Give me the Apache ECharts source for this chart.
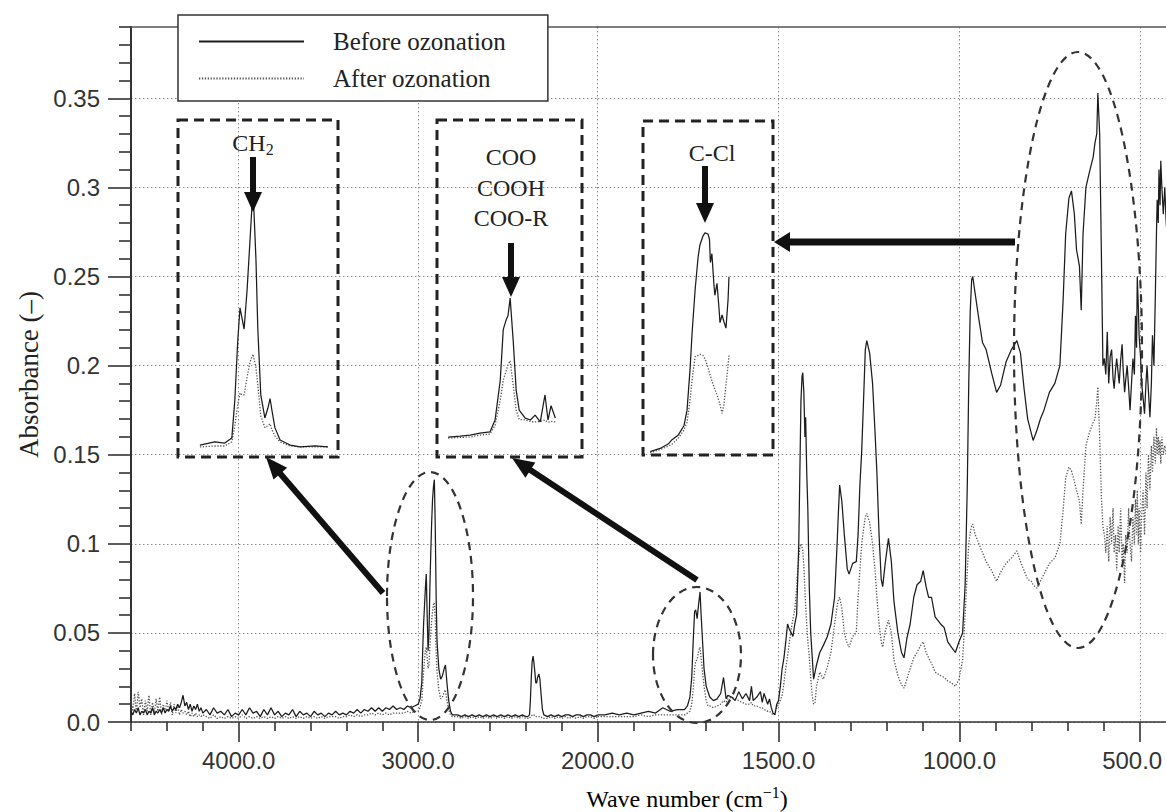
<!DOCTYPE html>
<html>
<head>
<meta charset="utf-8">
<script src="https://cdn.jsdelivr.net/npm/echarts@6.0.0/dist/echarts.min.js"></script>
<style>
html,body{margin:0;padding:0;background:#fff;}
#chart{width:1166px;height:812px;}
</style>
</head>
<body>
<div id="chart"></div>
<script>
// ---------------- Data ----------------
const wavenumbers = [
  // 4600-4200
  4600,4590,4580,4570,4560,4550,4540,4530,4520,4510,
  4500,4490,4480,4470,4460,4450,4440,4430,4420,4410,
  4400,4390,4380,4370,4360,4350,4340,4330,4320,4310,
  4300,4290,4280,4270,4260,4250,4240,4230,4220,4210,
  4200,
  // 4180-3060
  4180,4160,4140,4120,4100,4080,4060,4040,4020,4000,
  3980,3960,3940,3920,3900,3880,3860,3840,3820,3800,
  3780,3760,3740,3720,3700,3680,3660,3640,3620,3600,
  3580,3560,3540,3520,3500,3480,3460,3440,3420,3400,
  3380,3360,3340,3320,3300,3280,3260,3240,3220,3200,
  3180,3160,3140,3120,3100,3080,3060,
  // CH2 band
  3040,3020,3000,2990,2980,2975,2970,2965,2960,2955,
  2950,2945,2940,2935,2930,2925,2920,2915,2910,2905,
  2900,2895,2885,2875,2865,2855,2848,2840,2830,2820,
  2810,2800,
  // 2780-2400
  2780,2760,2740,2720,2700,2680,2660,2640,2620,2600,
  2580,2560,2540,2520,2500,2480,2460,2440,2420,2400,
  // CO2 doublet
  2390,2380,2375,2370,2365,2360,2355,2350,2345,2340,
  2335,2328,2322,2315,2308,2300,
  // 2280-2000
  2280,2260,2240,2220,2200,2180,2160,2140,2120,2100,
  2080,2060,2040,2020,2000,
  // 1980-1700 (C=O)
  1980,1960,1940,1920,1900,1880,1860,1840,1820,1800,
  1780,1770,1760,1752,1745,1740,1736,1732,1729,1725,
  1721,1717,1714,1710,1706,1700,
  // 1695-1500
  1695,1690,1680,1670,1660,1652,1645,1640,1630,1620,
  1610,1600,1590,1580,1575,1570,1560,1550,1545,1540,
  1530,1525,1520,1515,1510,1505,1500,
  // 1495-1395
  1495,1490,1485,1480,1475,1470,1465,1460,1455,1450,
  1447,1444,1441,1438,1435,1433,1430,1427,1425,1422,
  1419,1415,1411,1407,1403,1399,1395,
  // 1386-1001
  1386,1376,1365,1355,1345,1338,1335,1331,1325,1318,
  1310,1305,1295,1285,1280,1275,1270,1265,1260,1256,
  1248,1240,1233,1228,1222,1216,1212,1205,1196,1188,
  1181,1170,1160,1153,1145,1136,1126,1117,1107,1100,
  1092,1085,1077,1067,1052,1042,1032,1022,1011,1001,
  // 991-603
  991,984,978,974,970,966,963,956,946,936,
  926,911,897,886,871,856,841,831,821,811,
  801,796,785,776,766,751,736,722,713,706,
  697,690,682,676,668,663,658,650,641,630,
  625,620,617,612,607,603,
  // 599-400
  599,595,591,587,583,579,575,572,568,565,
  561,558,554,550,547,543,540,536,532,528,
  524,520,516,513,510,508,505,503,499,496,
  492,488,484,481,477,473,469,466,462,458,
  455,453,450,448,445,443,440,436,432,428,
  420,410,400
];

const absBefore = [
  0.006,0.004,0.007,0.005,0.008,0.004,0.006,0.005,0.007,0.004,
  0.006,0.005,0.008,0.004,0.006,0.005,0.007,0.005,0.008,0.005,
  0.007,0.006,0.009,0.006,0.008,0.007,0.010,0.008,0.011,0.015,
  0.009,0.011,0.007,0.010,0.006,0.009,0.007,0.010,0.006,0.008,
  0.005,
  0.007,0.004,0.008,0.005,0.006,0.004,0.007,0.003,0.005,0.004,
  0.007,0.004,0.008,0.005,0.006,0.003,0.007,0.004,0.008,0.004,
  0.006,0.003,0.005,0.004,0.007,0.003,0.006,0.004,0.005,0.003,
  0.006,0.004,0.005,0.003,0.005,0.004,0.006,0.004,0.005,0.004,
  0.006,0.005,0.007,0.005,0.007,0.006,0.008,0.006,0.008,0.006,
  0.008,0.007,0.009,0.007,0.008,0.007,0.009,
  0.008,0.009,0.010,0.013,0.022,0.040,0.055,0.065,0.075,0.083,
  0.060,0.040,0.050,0.075,0.095,0.112,0.125,0.132,0.136,0.110,
  0.070,0.045,0.030,0.024,0.026,0.030,0.032,0.022,0.012,0.006,
  0.004,0.004,
  0.004,0.003,0.004,0.003,0.004,0.003,0.004,0.003,0.004,0.003,
  0.004,0.003,0.004,0.003,0.004,0.003,0.004,0.003,0.004,0.003,
  0.003,0.004,0.012,0.025,0.034,0.037,0.033,0.028,0.022,0.022,
  0.025,0.027,0.024,0.015,0.007,0.004,
  0.003,0.004,0.003,0.004,0.003,0.004,0.004,0.003,0.004,0.004,
  0.003,0.004,0.004,0.003,0.004,
  0.004,0.005,0.004,0.005,0.004,0.005,0.006,0.005,0.008,0.006,
  0.007,0.007,0.007,0.009,0.014,0.025,0.045,0.062,0.063,0.058,
  0.066,0.073,0.060,0.045,0.030,0.020,
  0.017,0.014,0.012,0.013,0.016,0.025,0.013,0.015,0.014,0.012,
  0.017,0.013,0.016,0.012,0.020,0.012,0.014,0.017,0.011,0.016,
  0.010,0.013,0.008,0.005,0.004,0.010,0.012,
  0.020,0.030,0.036,0.045,0.055,0.052,0.050,0.048,0.055,0.060,
  0.080,0.100,0.140,0.180,0.194,0.196,0.185,0.160,0.171,0.140,
  0.120,0.076,0.050,0.037,0.024,0.028,0.032,
  0.039,0.043,0.048,0.055,0.070,0.100,0.115,0.133,0.124,0.105,
  0.086,0.083,0.089,0.090,0.105,0.133,0.152,0.180,0.209,0.214,
  0.207,0.190,0.162,0.140,0.105,0.080,0.076,0.089,0.103,0.090,
  0.068,0.050,0.039,0.036,0.047,0.055,0.070,0.077,0.079,0.085,
  0.076,0.070,0.070,0.059,0.055,0.053,0.045,0.042,0.039,0.045,
  0.050,0.077,0.133,0.190,0.230,0.248,0.250,0.240,0.226,0.213,
  0.209,0.196,0.185,0.189,0.202,0.209,0.214,0.207,0.187,0.170,
  0.162,0.158,0.164,0.170,0.175,0.185,0.190,0.200,0.237,0.274,
  0.294,0.298,0.285,0.265,0.256,0.231,0.274,0.300,0.308,0.317,
  0.325,0.330,0.353,0.330,0.259,0.200,
  0.204,0.195,0.219,0.190,0.205,0.209,0.193,0.187,0.198,0.204,
  0.196,0.190,0.203,0.212,0.198,0.185,0.192,0.200,0.188,0.175,
  0.190,0.204,0.195,0.228,0.210,0.250,0.232,0.217,0.205,0.190,
  0.182,0.173,0.190,0.200,0.185,0.171,0.190,0.217,0.200,0.240,
  0.274,0.293,0.280,0.310,0.290,0.315,0.300,0.285,0.300,0.280,
  0.260,0.240,0.220
];

const absAfter = [
  0.012,0.006,0.016,0.005,0.017,0.008,0.013,0.004,0.012,0.006,
  0.015,0.004,0.011,0.005,0.013,0.006,0.014,0.004,0.010,0.005,
  0.012,0.006,0.011,0.004,0.010,0.005,0.009,0.004,0.007,0.005,
  0.006,0.004,0.006,0.003,0.005,0.003,0.005,0.003,0.004,0.003,
  0.004,
  0.003,0.002,0.004,0.002,0.003,0.002,0.003,0.002,0.003,0.002,
  0.004,0.002,0.003,0.002,0.003,0.002,0.003,0.002,0.003,0.002,
  0.003,0.002,0.003,0.002,0.003,0.002,0.003,0.002,0.003,0.002,
  0.003,0.002,0.003,0.002,0.003,0.003,0.003,0.002,0.003,0.003,
  0.004,0.003,0.004,0.003,0.004,0.004,0.005,0.004,0.005,0.004,
  0.005,0.004,0.005,0.005,0.005,0.005,0.006,
  0.005,0.006,0.006,0.008,0.012,0.020,0.028,0.035,0.040,0.042,
  0.036,0.030,0.032,0.042,0.050,0.057,0.062,0.066,0.067,0.058,
  0.040,0.028,0.018,0.013,0.014,0.017,0.018,0.012,0.007,0.004,
  0.003,0.003,
  0.003,0.002,0.003,0.002,0.003,0.002,0.003,0.002,0.003,0.002,
  0.003,0.002,0.003,0.002,0.003,0.002,0.003,0.002,0.003,0.002,
  0.002,0.002,0.003,0.003,0.004,0.004,0.004,0.003,0.003,0.003,
  0.003,0.003,0.003,0.003,0.002,0.002,
  0.002,0.003,0.002,0.003,0.002,0.003,0.002,0.003,0.002,0.003,
  0.002,0.003,0.003,0.002,0.003,
  0.003,0.003,0.003,0.003,0.003,0.004,0.003,0.004,0.004,0.004,
  0.004,0.004,0.004,0.005,0.006,0.010,0.018,0.030,0.034,0.035,
  0.040,0.042,0.036,0.028,0.020,0.012,
  0.009,0.009,0.008,0.009,0.010,0.012,0.011,0.013,0.014,0.013,
  0.012,0.011,0.010,0.010,0.011,0.009,0.009,0.008,0.008,0.007,
  0.006,0.006,0.005,0.004,0.005,0.008,0.010,
  0.012,0.015,0.022,0.030,0.037,0.045,0.052,0.058,0.063,0.075,
  0.085,0.092,0.098,0.100,0.098,0.096,0.088,0.074,0.065,0.055,
  0.045,0.037,0.025,0.015,0.010,0.011,0.020,
  0.028,0.024,0.031,0.039,0.055,0.065,0.068,0.070,0.064,0.050,
  0.044,0.042,0.048,0.050,0.070,0.085,0.100,0.108,0.115,0.117,
  0.112,0.100,0.085,0.070,0.055,0.045,0.042,0.051,0.057,0.050,
  0.035,0.026,0.021,0.019,0.024,0.030,0.036,0.039,0.043,0.045,
  0.039,0.036,0.033,0.028,0.026,0.025,0.023,0.022,0.020,0.024,
  0.035,0.060,0.085,0.100,0.106,0.110,0.111,0.105,0.100,0.095,
  0.090,0.085,0.079,0.084,0.089,0.092,0.096,0.090,0.085,0.080,
  0.079,0.077,0.075,0.079,0.083,0.089,0.092,0.100,0.119,0.137,
  0.143,0.141,0.135,0.130,0.124,0.111,0.130,0.155,0.162,0.168,
  0.170,0.180,0.188,0.160,0.125,0.110,
  0.105,0.095,0.110,0.090,0.115,0.100,0.120,0.095,0.105,0.085,
  0.110,0.095,0.120,0.090,0.100,0.078,0.105,0.095,0.120,0.100,
  0.090,0.115,0.100,0.125,0.105,0.130,0.100,0.120,0.095,0.115,
  0.130,0.105,0.140,0.120,0.150,0.130,0.155,0.140,0.160,0.145,
  0.165,0.150,0.160,0.150,0.158,0.145,0.160,0.150,0.155,0.150,
  0.145,0.140,0.130
];

// Inset spectra (zoomed views)
const ch2Wave   = [3060,3020,2993,2974,2966,2958,2952,2947,2941,2933,2925,2917,2909,2904,2896,2885,2877,2871,2866,2858,2844,2817,2790,2750,2715];
const ch2Before = [0.003,0.0046,0.004,0.0066,0.026,0.057,0.074,0.069,0.063,0.083,0.109,0.136,0.099,0.063,0.029,0.017,0.022,0.027,0.021,0.012,0.0056,0.003,0.002,0.0025,0.002];
const ch2After  = [0.002,0.0025,0.0025,0.0046,0.013,0.024,0.030,0.029,0.029,0.038,0.046,0.050,0.043,0.034,0.018,0.012,0.013,0.014,0.011,0.0077,0.0046,0.0025,0.002,0.002,0.002];

const cooWave   = [1864,1836,1813,1790,1767,1755,1743,1736,1729,1725,1720,1713,1706,1699,1685,1673,1662,1650,1639,1632,1625,1615];
const cooBefore = [0.003,0.0035,0.004,0.005,0.0056,0.0117,0.032,0.058,0.063,0.065,0.074,0.0526,0.027,0.0168,0.0127,0.0117,0.0142,0.0107,0.0245,0.0117,0.019,0.0127];
const cooAfter  = [0.0025,0.0028,0.003,0.004,0.0045,0.009,0.0219,0.032,0.037,0.040,0.042,0.0296,0.0168,0.012,0.0117,0.011,0.0107,0.011,0.0117,0.0105,0.011,0.0107];

const cclWave   = [800,767,740,727,707,687,677,667,660,650,640,634,624,617,607,602,599,594,587,584,577,570,567,560,554,547,540,537];
const cclBefore = [0.153,0.156,0.160,0.164,0.168,0.177,0.191,0.228,0.262,0.301,0.331,0.342,0.350,0.353,0.352,0.347,0.326,0.334,0.305,0.296,0.307,0.283,0.271,0.278,0.272,0.266,0.292,0.313];
const cclAfter  = [0.152,0.155,0.158,0.160,0.165,0.173,0.180,0.200,0.219,0.240,0.241,0.242,0.241,0.238,0.230,0.225,0.222,0.218,0.212,0.210,0.205,0.199,0.196,0.188,0.196,0.214,0.232,0.241];

// Ticks
const xMajorHigh = [4000, 3000];
const xMinorHigh = [4600, 4400, 4200, 3800, 3600, 3400, 3200, 2800, 2600, 2400, 2200];
const xMajorLow  = [2000, 1500, 1000, 500];
const xMinorLow  = [1900, 1800, 1700, 1600, 1400, 1300, 1200, 1100, 900, 800, 700, 600, 400];
const yMajor = [0, 0.05, 0.1, 0.15, 0.2, 0.25, 0.3, 0.35];
const yMinor = [0.01,0.02,0.03,0.04,0.06,0.07,0.08,0.09,0.11,0.12,0.13,0.14,0.16,0.17,0.18,0.19,
                0.21,0.22,0.23,0.24,0.26,0.27,0.28,0.29,0.31,0.32,0.33,0.34,0.36,0.37,0.38,0.39];

const seriesNames = ['Before ozonation', 'After ozonation'];

// ---------------- Build ----------------
function pairs(lo, hi, vals) {
  const out = [];
  for (let i = 0; i < wavenumbers.length; i++) {
    const w = wavenumbers[i];
    if (w >= lo && w <= hi) out.push([w, vals[i]]);
  }
  return out;
}
function zipPairs(ws, vs) { return ws.map((w, i) => [w, vs[i]]); }

const AX = '#333';
const gridLine = { show: true, lineStyle: { color: '#8a8a8a', width: 1, type: [1.5, 2.5] } };
const sansFamily = 'Liberation Sans, Arial, sans-serif';
const sansLabel = { fontFamily: sansFamily, fontSize: 24, color: '#333' };
const fmtX = v => Number(v).toFixed(1);
// the last label sits at the picture's right edge: shift it slightly left so it stays readable
const fmtXLow = v => (v === 500 ? '{r|' + fmtX(v) + '}' : fmtX(v));
const fmtY = v => (v === 0 ? '0.0' : String(Math.round(v * 100) / 100));

function hiddenAxis(extra) {
  return Object.assign({ type: 'value', show: false, axisLine: { show: false, onZero: false },
    axisTick: { show: false }, axisLabel: { show: false }, splitLine: { show: false } }, extra);
}

const xAxis = [
  // 0: high-wavenumber part, majors + grid lines
  { type: 'value', gridIndex: 0, position: 'bottom', min: 2000, max: 4600, interval: 1000, inverse: true,
    axisLine: { show: true, onZero: false, lineStyle: { color: AX, width: 1.6 } },
    axisTick: { show: true, customValues: xMajorHigh, length: 20, lineStyle: { color: AX, width: 1.6 } },
    axisLabel: Object.assign({ show: true, customValues: xMajorHigh, formatter: fmtX, margin: 26, hideOverlap: false }, sansLabel),
    splitLine: gridLine },
  // 1: minor ticks
  { type: 'value', gridIndex: 0, position: 'bottom', min: 2000, max: 4600, interval: 1000, inverse: true,
    axisLine: { show: false, onZero: false },
    axisTick: { show: true, customValues: xMinorHigh, length: 9, lineStyle: { color: AX, width: 1.6 } },
    axisLabel: { show: false }, splitLine: { show: false } },
  // 2: top frame
  { type: 'value', gridIndex: 0, position: 'top', min: 2000, max: 4600, inverse: true,
    axisLine: { show: true, onZero: false, lineStyle: { color: '#555', width: 1.6 } },
    axisTick: { show: false }, axisLabel: { show: false }, splitLine: { show: false } },
  // 3: low-wavenumber part (double scale), majors + grid lines
  { type: 'value', gridIndex: 1, position: 'bottom', min: 0, max: 2000, interval: 500, inverse: true,
    axisLine: { show: true, onZero: false, lineStyle: { color: AX, width: 1.6 } },
    axisTick: { show: true, customValues: xMajorLow, length: 20, lineStyle: { color: AX, width: 1.6 } },
    axisLabel: Object.assign({ show: true, customValues: xMajorLow, formatter: fmtXLow, margin: 26, hideOverlap: false,
      rich: { r: { fontFamily: sansFamily, fontSize: 24, color: '#333', padding: [0, 16, 0, 0] } } }, sansLabel),
    splitLine: gridLine },
  // 4: minor ticks
  { type: 'value', gridIndex: 1, position: 'bottom', min: 0, max: 2000, interval: 500, inverse: true,
    axisLine: { show: false, onZero: false },
    axisTick: { show: true, customValues: xMinorLow, length: 9, lineStyle: { color: AX, width: 1.6 } },
    axisLabel: { show: false }, splitLine: { show: false } },
  // 5: top frame
  { type: 'value', gridIndex: 1, position: 'top', min: 0, max: 2000, inverse: true,
    axisLine: { show: true, onZero: false, lineStyle: { color: '#555', width: 1.6 } },
    axisTick: { show: false }, axisLabel: { show: false }, splitLine: { show: false } },
  // 6-8: insets
  hiddenAxis({ gridIndex: 2, min: 2688, max: 3119, inverse: true }),
  hiddenAxis({ gridIndex: 3, min: 1553, max: 1890, inverse: true }),
  hiddenAxis({ gridIndex: 4, min: 390, max: 824, inverse: true })
];

const yAxis = [
  // 0: main left axis
  { type: 'value', gridIndex: 0, position: 'left', min: 0, max: 0.39, interval: 0.05,
    name: 'Absorbance (–)', nameLocation: 'middle', nameGap: 89,
    nameTextStyle: { fontFamily: 'Liberation Serif, Times New Roman, serif', fontSize: 27, color: '#222' },
    axisLine: { show: true, onZero: false, lineStyle: { color: AX, width: 2 } },
    axisTick: { show: true, customValues: yMajor, length: 23, lineStyle: { color: AX, width: 1.6 } },
    axisLabel: Object.assign({ show: true, customValues: yMajor, formatter: fmtY, margin: 31, hideOverlap: false }, sansLabel),
    splitLine: gridLine },
  // 1: minor ticks
  { type: 'value', gridIndex: 0, position: 'left', min: 0, max: 0.39, interval: 0.05,
    axisLine: { show: false, onZero: false },
    axisTick: { show: true, customValues: yMinor, length: 12, lineStyle: { color: AX, width: 1.6 } },
    axisLabel: { show: false }, splitLine: { show: false } },
  // 2: grid lines for the right part
  { type: 'value', gridIndex: 1, position: 'left', min: 0, max: 0.39, interval: 0.05,
    axisLine: { show: false, onZero: false },
    axisTick: { show: false, customValues: yMajor },
    axisLabel: { show: false }, splitLine: gridLine },
  hiddenAxis({ gridIndex: 2, min: -0.0032, max: 0.1712 }),
  hiddenAxis({ gridIndex: 3, min: -0.0072, max: 0.165 }),
  hiddenAxis({ gridIndex: 4, min: 0.15, max: 0.4553 })
];

const beforeStyle = { color: '#1c1c1c', width: 1.25, type: 'solid' };
const afterStyle  = { color: '#555', width: 1.3, type: [1.3, 1.6] };

function lineSeries(name, xi, yi, data, style, z) {
  return { name, type: 'line', xAxisIndex: xi, yAxisIndex: yi, data,
    symbol: 'none', showSymbol: false, silent: true, animation: false,
    lineStyle: style, itemStyle: { color: style.color }, z: z };
}

const series = [
  lineSeries(seriesNames[1], 0, 0, pairs(2000, 4600, absAfter), afterStyle, 2),
  lineSeries(seriesNames[1], 3, 2, pairs(0, 2000, absAfter), afterStyle, 2),
  lineSeries(seriesNames[0], 0, 0, pairs(2000, 4600, absBefore), beforeStyle, 3),
  lineSeries(seriesNames[0], 3, 2, pairs(0, 2000, absBefore), beforeStyle, 3),
  lineSeries(seriesNames[1], 6, 3, zipPairs(ch2Wave, ch2After), afterStyle, 2),
  lineSeries(seriesNames[0], 6, 3, zipPairs(ch2Wave, ch2Before), beforeStyle, 3),
  lineSeries(seriesNames[1], 7, 4, zipPairs(cooWave, cooAfter), afterStyle, 2),
  lineSeries(seriesNames[0], 7, 4, zipPairs(cooWave, cooBefore), beforeStyle, 3),
  lineSeries(seriesNames[1], 8, 5, zipPairs(cclWave, cclAfter), afterStyle, 2),
  lineSeries(seriesNames[0], 8, 5, zipPairs(cclWave, cclBefore), beforeStyle, 3)
];

// ---------------- Annotations ----------------
function arrow(x1, y1, x2, y2, w, hl, hw) {
  const dx = x2 - x1, dy = y2 - y1, L = Math.hypot(dx, dy), ux = dx / L, uy = dy / L;
  const bx = x2 - ux * hl, by = y2 - uy * hl, px = -uy, py = ux;
  return { type: 'group', z: 20, silent: true, children: [
    { type: 'line', z: 20, shape: { x1: x1, y1: y1, x2: bx + ux, y2: by + uy }, style: { stroke: '#111', lineWidth: w } },
    { type: 'polygon', z: 20, shape: { points: [[x2, y2], [bx + px * hw, by + py * hw], [bx - px * hw, by - py * hw]] }, style: { fill: '#111' } }
  ]};
}
function dashedBox(x, y, w, h) {
  return { type: 'rect', z: 15, silent: true, shape: { x, y, width: w, height: h },
    style: { fill: 'none', stroke: '#222', lineWidth: 3, lineDash: [10, 6] } };
}
function ellipse(cx, cy, rx, ry) {
  return { type: 'ellipse', z: 15, silent: true, shape: { cx, cy, rx, ry },
    style: { fill: 'none', stroke: '#333', lineWidth: 2.2, lineDash: [8, 6] } };
}
const serif = 'Liberation Serif, Times New Roman, serif';
function label(x, y, text, rich) {
  return { type: 'text', z: 20, silent: true, x, y,
    style: { text, fill: '#222', font: '24px ' + serif, align: 'center', verticalAlign: 'middle', rich: rich } };
}
const subRich = {
  a: { fontFamily: serif, fontSize: 24, color: '#222', lineHeight: 28 },
  s: { fontFamily: serif, fontSize: 16, color: '#222', verticalAlign: 'bottom', lineHeight: 28 }
};
const supRich = {
  a: { fontFamily: serif, fontSize: 24, color: '#222', lineHeight: 30 },
  s: { fontFamily: serif, fontSize: 16, color: '#222', verticalAlign: 'top', lineHeight: 30 }
};

const graphic = [
  dashedBox(178, 120, 160, 337),
  dashedBox(437, 120, 145, 337),
  dashedBox(643, 121, 130, 334),
  ellipse(430, 596, 43, 124),
  ellipse(697, 655, 44, 68),
  ellipse(1078, 350, 64, 298),
  arrow(383, 593, 266, 457, 6, 22, 9),
  arrow(697, 580, 512, 458, 6, 22, 9),
  arrow(1015, 242, 774, 242, 7, 16, 10),
  arrow(253, 157, 253, 212, 6, 20, 9),
  arrow(511, 243, 511, 297, 6, 20, 9),
  arrow(705, 166, 705, 223, 6, 20, 9),
  label(253, 143, '{a|CH}{s|2}', subRich),
  label(511, 157, 'COO'),
  label(511, 188, 'COOH'),
  label(511, 218, 'COO-R'),
  label(712, 153, 'C-Cl'),
  { type: 'text', z: 20, silent: true, x: 687, y: 799,
    style: { text: '{a|Wave number (cm}{s|−1}{a|)}', align: 'center', verticalAlign: 'middle', rich: supRich } }
];

const option = {
  animation: false,
  backgroundColor: '#fff',
  grid: [
    { left: 131, top: 27, width: 466.7, height: 695, outerBoundsMode: 'none', containLabel: false },
    { left: 597.7, top: 27, width: 723.3, height: 695, outerBoundsMode: 'none', containLabel: false },
    { left: 178, top: 120, width: 160, height: 337, outerBoundsMode: 'none', containLabel: false },
    { left: 437, top: 120, width: 145, height: 337, outerBoundsMode: 'none', containLabel: false },
    { left: 643, top: 121, width: 130, height: 334, outerBoundsMode: 'none', containLabel: false }
  ],
  legend: {
    data: seriesNames, orient: 'vertical', left: 178, top: 15,
    itemWidth: 105, itemHeight: 14, itemGap: 12,
    padding: [14, 42, 10, 20],
    backgroundColor: '#fff', borderColor: '#333', borderWidth: 1.5, borderRadius: 0,
    selectedMode: false, z: 30,
    itemStyle: { opacity: 0, borderWidth: 0 },
    textStyle: { fontFamily: serif, fontSize: 25, color: '#222', padding: [0, 0, 0, 24] }
  },
  xAxis: xAxis,
  yAxis: yAxis,
  series: series,
  graphic: graphic
};

const chart = echarts.init(document.getElementById('chart'), null, { renderer: 'svg' });
chart.setOption(option);
</script>
</body>
</html>
